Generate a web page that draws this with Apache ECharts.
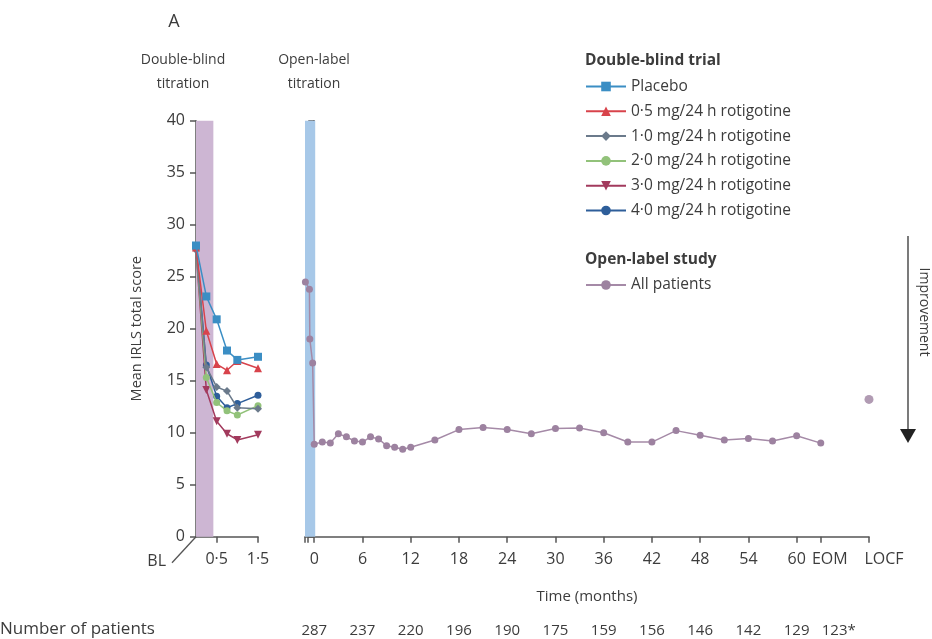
<!DOCTYPE html>
<html>
<head>
<meta charset="utf-8">
<script src="https://cdn.jsdelivr.net/npm/echarts@6/dist/echarts.min.js"></script>
<style>
html,body{margin:0;padding:0;background:#fff;}
#c{width:932px;height:639px;}
</style>
</head>
<body>
<div id="c"></div>
<script>
// ---- Double-blind trial (months) ----
const dbMonths = [0, 0.25, 0.5, 0.75, 1, 1.5];
const placebo = [28.0, 23.1, 20.9, 17.9, 17.0, 17.3];
const rot05 = [27.8, 19.8, 16.6, 16.0, 16.9, 16.2];
const rot10 = [27.6, 16.3, 14.4, 14.0, 12.4, 12.3];
const rot20 = [27.7, 15.3, 12.9, 12.1, 11.7, 12.6];
const rot30 = [27.5, 14.1, 11.1, 9.9, 9.3, 9.8];
const rot40 = [28.0, 16.5, 13.5, 12.4, 12.8, 13.6];
const dbTickValues = [0.5, 1.5];
const dbTitrationBand = [0, 0.42];

// ---- Open-label study (months; EOM placed at 63, LOCF at 69) ----
const olMonths = [-1.1, -0.6, -0.55, -0.2,
  0, 1, 2, 3, 4, 5, 6, 7, 8, 9, 10, 11, 12,
  15, 18, 21, 24, 27, 30, 33, 36, 39, 42, 45, 48, 51, 54, 57, 60,
  63];
const olScores = [24.5, 23.8, 19.0, 16.7,
  8.9, 9.1, 9.0, 9.9, 9.6, 9.2, 9.1, 9.6, 9.4, 8.75, 8.6, 8.4, 8.6,
  9.3, 10.3, 10.5, 10.3, 9.9, 10.4, 10.45, 10.0, 9.1, 9.1, 10.2, 9.75, 9.3, 9.45, 9.2, 9.7,
  9.0];
const locfMonth = 69;
const locfScore = 13.2;
const olTitrationBand = [-1.15, 0.12];
const olTickValues = [0, 6, 12, 18, 24, 30, 36, 42, 48, 54, 60, 63, 69];
const olTickLabels = ['0', '6', '12', '18', '24', '30', '36', '42', '48', '54', '60', 'EOM', 'LOCF'];
const olExtraTicks = [-1.15, -0.75];
const patientMonths = [0, 6, 12, 18, 24, 30, 36, 42, 48, 54, 60, 63];
const patientCounts = ['287', '237', '220', '196', '190', '175', '159', '156', '146', '142', '129', '123*'];

const FONT = 'Open Sans';
const TXT = '#3c3c3c';
const AX = '#555';

function pairs(xs, ys) { return xs.map((x, i) => [x, ys[i]]); }

const dbSeriesDefs = [
  { name: 'Placebo', data: placebo, color: '#3b8ec4', symbol: 'rect', size: 8 },
  { name: '0·5 mg/24 h rotigotine', data: rot05, color: '#d8434b', symbol: 'triangle', size: 8 },
  { name: '1·0 mg/24 h rotigotine', data: rot10, color: '#6b7a8b', symbol: 'diamond', size: 8 },
  { name: '2·0 mg/24 h rotigotine', data: rot20, color: '#92c27a', symbol: 'circle', size: 7 },
  { name: '3·0 mg/24 h rotigotine', data: rot30, color: '#a23a5d', symbol: 'path://M0,0 L10,0 L5,9 Z', size: 8 },
  { name: '4·0 mg/24 h rotigotine', data: rot40, color: '#2e5e9a', symbol: 'circle', size: 7 }
];

const OL_COLOR = '#a58aa7';

const series = dbSeriesDefs.map((d, i) => ({
  name: d.name, type: 'line', xAxisIndex: 0, yAxisIndex: 0,
  data: pairs(dbMonths, d.data),
  symbol: d.symbol, symbolSize: d.size, showAllSymbol: true,
  lineStyle: { color: d.color, width: 1.5 },
  itemStyle: { color: d.color },
  z: 10 - i,
  markArea: i === 0 ? {
    silent: true,
    itemStyle: { color: '#cdb6d3' },
    data: [[{ xAxis: dbTitrationBand[0] }, { xAxis: dbTitrationBand[1] }]]
  } : undefined
}));

series.push({
  name: 'All patients', type: 'line', xAxisIndex: 1, yAxisIndex: 1,
  data: pairs(olMonths, olScores),
  symbol: 'circle', symbolSize: 7, showAllSymbol: true,
  lineStyle: { color: OL_COLOR, width: 1.5 },
  itemStyle: { color: '#9d82a0' },
  markArea: {
    silent: true,
    itemStyle: { color: '#a7c8e8' },
    data: [[{ xAxis: olTitrationBand[0] }, { xAxis: olTitrationBand[1] }]]
  }
});
series.push({
  name: 'LOCF', type: 'scatter', xAxisIndex: 1, yAxisIndex: 1,
  data: [[locfMonth, locfScore]],
  symbol: 'circle', symbolSize: 9,
  itemStyle: { color: '#9d82a0' }
});

const gridTop = 120.7, gridH = 416;
const lblBase = { color: TXT, fontSize: 16, fontFamily: FONT };

const option = {
  animation: false,
  backgroundColor: '#fff',
  textStyle: { fontFamily: FONT },
  grid: [
    { left: 196, top: gridTop, width: 62, height: gridH, containLabel: false },
    { left: 305, top: gridTop, width: 564, height: gridH, containLabel: false }
  ],
  xAxis: [
    {
      type: 'value', gridIndex: 0, min: 0, max: 1.5,
      axisLine: { show: true, lineStyle: { color: AX, width: 1.5 } },
      axisTick: { show: true, length: 6, customValues: dbTickValues, lineStyle: { color: AX, width: 1.5 } },
      axisLabel: Object.assign({ customValues: dbTickValues, margin: 15, hideOverlap: false,
        formatter: v => String(v).replace('.', '·') }, lblBase),
      splitLine: { show: false }
    },
    {
      type: 'value', gridIndex: 1, min: olTitrationBand[0], max: locfMonth,
      name: 'Time (months)', nameLocation: 'middle', nameGap: 53,
      nameTextStyle: { color: TXT, fontSize: 15, fontFamily: FONT },
      axisLine: { show: true, lineStyle: { color: AX, width: 1.5 } },
      axisTick: { show: true, length: 6, customValues: olExtraTicks.concat(olTickValues), lineStyle: { color: AX, width: 1.5 } },
      axisLabel: Object.assign({ customValues: olTickValues, margin: 15, hideOverlap: false,
        formatter: v => {
          const i = olTickValues.indexOf(v);
          if (i < 0) return '';
          if (olTickLabels[i] === 'EOM') return '{e|EOM}';
          if (olTickLabels[i] === 'LOCF') return '{l|LOCF}';
          return olTickLabels[i];
        },
        rich: {
          e: Object.assign({ padding: [0, 0, 0, 18] }, lblBase),
          l: Object.assign({ padding: [0, 0, 0, 30] }, lblBase)
        } }, lblBase),
      splitLine: { show: false }
    },
    {
      type: 'value', gridIndex: 1, min: olTitrationBand[0], max: locfMonth, position: 'bottom', offset: 87,
      axisLine: { show: false }, axisTick: { show: false }, splitLine: { show: false },
      axisLabel: { customValues: patientMonths, color: TXT, fontSize: 15, fontFamily: FONT, margin: 0, hideOverlap: false,
        formatter: v => {
          const i = patientMonths.indexOf(v);
          if (i < 0) return '';
          return i === patientCounts.length - 1 ? '{s|' + patientCounts[i] + '}' : patientCounts[i];
        },
        rich: { s: { padding: [0, 0, 0, 36], color: TXT, fontSize: 15, fontFamily: FONT } } }
    }
  ],
  yAxis: [
    {
      type: 'value', gridIndex: 0, min: 0, max: 40, interval: 5,
      name: 'Mean IRLS total score', nameLocation: 'middle', nameGap: 52,
      nameTextStyle: { color: TXT, fontSize: 14.5, fontFamily: FONT },
      axisLine: { show: true, lineStyle: { color: AX, width: 1.5 } },
      axisTick: { show: true, length: 6, lineStyle: { color: AX, width: 1.5 } },
      axisLabel: Object.assign({ margin: 11 }, lblBase),
      splitLine: { show: false }
    },
    {
      type: 'value', gridIndex: 1, min: 0, max: 40, interval: 5,
      axisLine: { show: true, lineStyle: { color: AX, width: 1.5 } },
      axisTick: { show: true, length: 6, lineStyle: { color: AX, width: 1.5 } },
      axisLabel: { show: false },
      splitLine: { show: false }
    }
  ],
  legend: [
    {
      left: 585, top: 78.5, orient: 'vertical', itemWidth: 40, itemHeight: 12, itemGap: 8.8, padding: 0,
      data: dbSeriesDefs.map(d => d.name),
      textStyle: { color: TXT, fontSize: 15.5, fontFamily: FONT },
      selectedMode: false
    },
    {
      left: 585, top: 277, orient: 'vertical', itemWidth: 40, itemHeight: 12, padding: 0,
      data: ['All patients'],
      textStyle: { color: TXT, fontSize: 15.5, fontFamily: FONT },
      selectedMode: false
    }
  ],
  series: series
};

const chart = echarts.init(document.getElementById('c'), null, { renderer: 'canvas' });
chart.setOption(option);

const o = chart.convertToPixel({ xAxisIndex: 0, yAxisIndex: 0 }, [0, 0]);
const txt = (x, y, s, extra) => Object.assign({
  type: 'text', x: x, y: y,
  style: Object.assign({ text: s, fill: TXT, font: '14px "' + FONT + '"', textAlign: 'center', textVerticalAlign: 'middle' }, extra || {})
});
chart.setOption({
  graphic: [
    txt(174, 22, 'A', { font: '500 18px "' + FONT + '"' }),
    txt(183, 60, 'Double-blind'),
    txt(183, 84, 'titration'),
    txt(314, 60, 'Open-label'),
    txt(314, 84, 'titration'),
    txt(585, 61, 'Double-blind trial', { font: '700 15.5px "' + FONT + '"', textAlign: 'left' }),
    txt(585, 260, 'Open-label study', { font: '700 15.5px "' + FONT + '"', textAlign: 'left' }),
    txt(0, 629, 'Number of patients', { textAlign: 'left', font: '17px "' + FONT + '"' }),
    txt(o[0] - 30, o[1] + 25, 'BL', { textAlign: 'right', font: '16px "' + FONT + '"' }),
    { type: 'line', shape: { x1: o[0], y1: o[1], x2: o[0] - 24, y2: o[1] + 26 }, style: { stroke: AX, lineWidth: 1.3 } },
    { type: 'line', shape: { x1: 908, y1: 236, x2: 908, y2: 430 }, style: { stroke: '#333', lineWidth: 1.3 } },
    { type: 'polygon', shape: { points: [[900, 429], [916, 429], [908, 443]] }, style: { fill: '#222' } },
    { type: 'text', x: 924, y: 312, rotation: -Math.PI / 2,
      style: { text: 'Improvement', fill: TXT, font: '14px "' + FONT + '"', textAlign: 'center', textVerticalAlign: 'middle' } }
  ]
});
</script>
</body>
</html>
